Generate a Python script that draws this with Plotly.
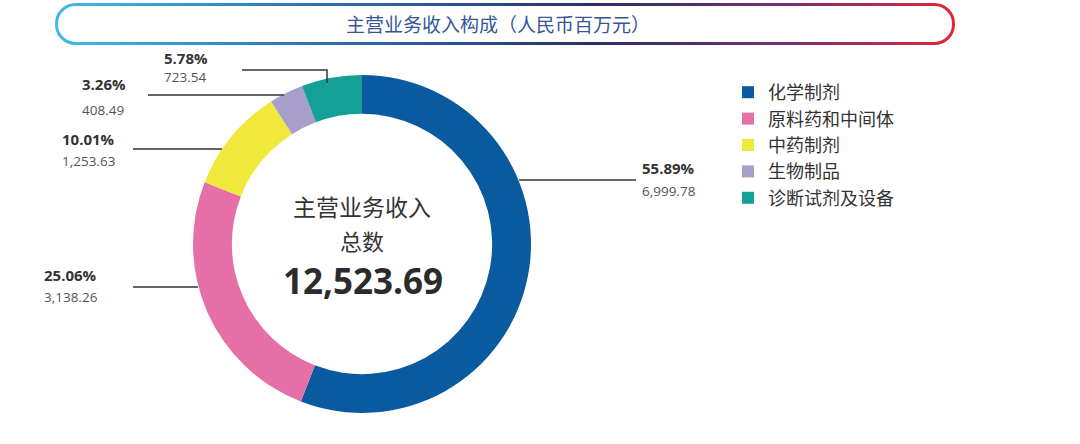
import base64
import plotly.graph_objects as go

# data
labels = ["化学制剂", "原料药和中间体", "中药制剂", "生物制品", "诊断试剂及设备"]
values = [6999.78, 3138.26, 1253.63, 408.49, 723.54]
shares = ["55.89%", "25.06%", "10.01%", "3.26%", "5.78%"]
colors = ["#0a5aa0", "#e66fa8", "#f1e83c", "#a79fc9", "#14a096"]
total = 12523.69

W, H = 1080, 444


def px(x):
    return x / W


def py(y):
    return 1 - y / H


fig = go.Figure()
fig.add_trace(go.Pie(
    labels=labels, values=values, sort=False, direction="clockwise", rotation=0,
    hole=0.77, textinfo="none", hoverinfo="label+value+percent",
    marker=dict(colors=colors, line=dict(width=0)),
    domain=dict(x=[px(193), px(531)], y=[py(413), py(75)]),
))

# label positions (pixel) : share text, value text, leader line
label_pos = [
    dict(tx=640, ty=168, vy=191, line=[(519, 180), (636, 180)]),
    dict(tx=42, ty=275, vy=297, line=[(133, 287), (198, 287)]),
    dict(tx=60, ty=139, vy=161, line=[(133, 149), (222, 149)]),
    dict(tx=80, ty=84, vy=110, line=[(148, 95), (284, 95)]),
    dict(tx=162, ty=58, vy=77, line=[(242, 70), (327, 70), (327, 83)]),
]

annotations = []
shapes = []
for i, p in enumerate(label_pos):
    annotations.append(dict(
        x=px(p["tx"]), y=py(p["ty"]), xref="paper", yref="paper", xanchor="left", yanchor="middle",
        text="<b>" + shares[i] + "</b>", showarrow=False,
        font=dict(family="Open Sans, Noto Sans", size=15, color="#333333")))
    annotations.append(dict(
        x=px(p["tx"]), y=py(p["vy"]), xref="paper", yref="paper", xanchor="left", yanchor="middle",
        text=f"{values[i]:,.2f}", showarrow=False,
        font=dict(family="Open Sans, Noto Sans", size=13.5, color="#555555")))
    pts = p["line"]
    path = "M " + " L ".join(f"{px(x)},{py(y)}" for x, y in pts)
    shapes.append(dict(type="path", xref="paper", yref="paper", path=path,
                       line=dict(color="#333333", width=1.5)))

# centre text
cjk = "Noto Sans CJK SC"
annotations += [
    dict(x=px(362), y=py(206), text="主营业务收入", font=dict(family=cjk, size=23, color="#333333")),
    dict(x=px(362), y=py(240), text="总数", font=dict(family=cjk, size=22, color="#333333")),
    dict(x=px(363), y=py(280), text=f"<b>{total:,.2f}</b>",
         font=dict(family="Open Sans, Noto Sans", size=35, color="#2b2b2b")),
    dict(x=px(498), y=py(23), text="主营业务收入构成（人民币百万元）",
         font=dict(family=cjk, size=19, color="#35559a")),
]
for a in annotations[-4:]:
    a.update(xref="paper", yref="paper", xanchor="center", yanchor="middle", showarrow=False)

# gradient rounded title frame
svg = ('<svg xmlns="http://www.w3.org/2000/svg" width="900" height="42" viewBox="0 0 900 42" '
       'preserveAspectRatio="none"><defs><linearGradient id="g" x1="0" x2="1" y1="0" y2="0">'
       '<stop offset="0" stop-color="#41b9e8"/><stop offset="0.3" stop-color="#2d6fb0"/>'
       '<stop offset="0.6" stop-color="#2a2f6e"/><stop offset="0.82" stop-color="#7a2f6e"/>'
       '<stop offset="1" stop-color="#e32636"/></linearGradient></defs>'
       '<rect x="1.5" y="1.5" width="897" height="39" rx="19" ry="19" fill="white" '
       'stroke="url(#g)" stroke-width="3"/></svg>')
src = "data:image/svg+xml;base64," + base64.b64encode(svg.encode()).decode()

fig.update_layout(
    width=W, height=H,
    margin=dict(l=0, r=0, t=0, b=0),
    paper_bgcolor="white", plot_bgcolor="white",
    showlegend=True,
    legend=dict(x=px(728), y=py(74), xanchor="left", yanchor="top",
                font=dict(family=cjk, size=18, color="#333333"),
                bgcolor="rgba(0,0,0,0)"),
    annotations=annotations,
    shapes=shapes,
    images=[dict(source=src, xref="paper", yref="paper", x=px(55), y=py(3),
                 sizex=900 / W, sizey=42 / H, sizing="stretch", xanchor="left",
                 yanchor="top", layer="below")],
)

fig.write_html("out.html", config={"displayModeBar": False},
               post_script="document.body.style.margin='0';")
